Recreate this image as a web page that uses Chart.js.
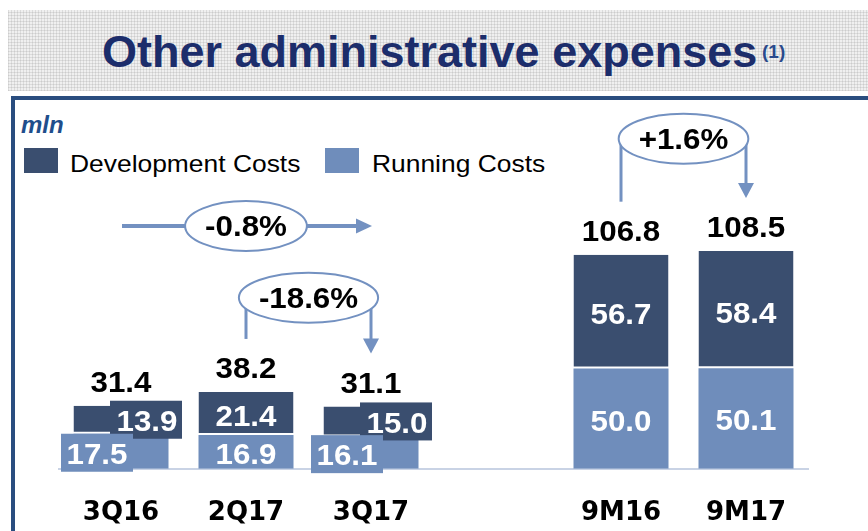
<!DOCTYPE html>
<html><head><meta charset="utf-8">
<script src="https://cdn.jsdelivr.net/npm/chart.js@4.4.1/dist/chart.umd.min.js"></script>
<style>
html,body{margin:0;padding:0;width:868px;height:531px;overflow:hidden;background:#fff;font-family:"Liberation Sans",Arial,sans-serif;}
#band{position:absolute;left:8px;top:10px;width:860px;height:81px;background-color:#f0f0f0;
 background-image:repeating-linear-gradient(0deg,rgba(140,140,140,.20) 0 1px,transparent 1px 3px),repeating-linear-gradient(90deg,rgba(140,140,140,.20) 0 1px,transparent 1px 3px);}
#title{position:absolute;left:102px;top:29px;font:bold 45px/1 "Liberation Sans",Arial,sans-serif;color:#1c2d6b;white-space:nowrap;}
#sup{position:absolute;left:762px;top:42px;font:bold 19px/1 "Liberation Sans",Arial,sans-serif;color:#2a4a8c;white-space:nowrap;}
#frame{position:absolute;left:11px;top:96px;width:880px;height:460px;border-left:4px solid #2a4d7f;border-top:4px solid #2a4d7f;}
#mln{position:absolute;left:21px;top:113px;font:italic bold 24px/1 "Liberation Sans",Arial,sans-serif;color:#1f4e8c;}
.lbox{position:absolute;top:148px;width:34px;height:25px;}
.ltxt{position:absolute;top:152px;font:24px/1 "Liberation Sans",Arial,sans-serif;color:#000;transform:scaleX(1.1);transform-origin:0 0;white-space:nowrap;}
#c{position:absolute;left:0;top:0;z-index:2;}
</style></head>
<body>
<div id="band"></div>
<div id="title">Other administrative expenses</div>
<div id="sup">(1)</div>
<div id="frame"></div>
<div id="mln">mln</div>
<div class="lbox" style="left:24px;background:#3a4e6f"></div>
<div class="ltxt" style="left:70px">Development Costs</div>
<div class="lbox" style="left:325px;background:#6f8dbb"></div>
<div class="ltxt" style="left:372px">Running Costs</div>
<canvas id="c" width="868" height="600"></canvas>
<script>
const categories = ['3Q16', '2Q17', '3Q17', '', '9M16', '9M17'];
const runningCosts = [17.5, 16.9, 16.1, null, 50.0, 50.1];
const developmentCosts = [13.9, 21.4, 15.0, null, 56.7, 58.4];
const totals = [31.4, 38.2, 31.1, null, 106.8, 108.5];
const changeLabels = ['-0.8%', '-18.6%', '+1.6%'];
const changeFrom = [0, 1, 4];
const changeTo = [2, 2, 5];

const DEV = '#3a4e6f', RUN = '#6f8dbb', ARROW = '#7391c1';
const LABEL_FONT = 'bold 29px "Liberation Sans", Arial, sans-serif';
const SX = 1.08;
function fmt(v){ return v.toFixed(1); }
function txt(ctx, s, x, cy, color){
  ctx.save(); ctx.font = LABEL_FONT; ctx.fillStyle = color; ctx.textAlign = 'center'; ctx.textBaseline = 'alphabetic';
  ctx.translate(x, cy + 10.4); ctx.scale(SX, 1); ctx.fillText(s, 0, 0); ctx.restore();
}
function textW(ctx, s){ ctx.save(); ctx.font = LABEL_FONT; const w = ctx.measureText(s).width * SX; ctx.restore(); return w; }

const labelPlugin = {
  id: 'barLabels',
  afterDatasetsDraw(chart){
    const ctx = chart.ctx;
    const run = chart.getDatasetMeta(0).data, dev = chart.getDatasetMeta(1).data;
    totals.forEach((t, i) => {
      if (t == null) return;
      const r = run[i], d = dev[i];
      const rMid = (r.y + r.base) / 2, dMid = (d.y + d.base) / 2;
      if (t < 35) {
        const bw = 72, bh = 38;
        ctx.fillStyle = DEV; ctx.fillRect(d.x + 25 - bw/2, dMid - bh/2, bw, bh);
        ctx.fillStyle = RUN; ctx.fillRect(r.x - 24 - bw/2, rMid + 1.5 - bh/2, bw, bh);
        txt(ctx, fmt(developmentCosts[i]), d.x + 26, dMid + 1, '#fff');
        txt(ctx, fmt(runningCosts[i]), r.x - 24, rMid + 2, '#fff');
      } else {
        txt(ctx, fmt(developmentCosts[i]), d.x, dMid + 2.5, '#fff');
        txt(ctx, fmt(runningCosts[i]), r.x, rMid + 1.5, '#fff');
      }
      txt(ctx, fmt(t), d.x, d.y - 24, '#000');
    });
  }
};

const changePlugin = {
  id: 'changeArrows',
  afterDraw(chart, args, opts){
    const ctx = chart.ctx, ys = chart.scales.y, dev = chart.getDatasetMeta(1).data;
    changeLabels.forEach((lab, k) => {
      const i1 = changeFrom[k], i2 = changeTo[k];
      const x1 = dev[i1].x, x2 = dev[i2].x;
      const cy = ys.getPixelForValue(opts.levels[k]);
      const cx = (x1 + x2) / 2;
      const rx = textW(ctx, lab) / 2 + 20, ry = 25;
      ctx.save();
      ctx.strokeStyle = ARROW; ctx.fillStyle = ARROW;
      if (opts.kinds[k] === 'straight') {
        ctx.lineWidth = 4;
        ctx.beginPath(); ctx.moveTo(x1 + 1, cy); ctx.lineTo(x2 - 14, cy); ctx.stroke();
        ctx.beginPath(); ctx.moveTo(x2 + 1, cy); ctx.lineTo(x2 - 15, cy - 7.5); ctx.lineTo(x2 - 15, cy + 7.5); ctx.closePath(); ctx.fill();
      } else {
        const e1 = dev[i1].y - 53, e2 = dev[i2].y - 53;
        ctx.lineWidth = 3;
        ctx.beginPath(); ctx.moveTo(x1, cy); ctx.lineTo(x1, e1); ctx.stroke();
        ctx.beginPath(); ctx.moveTo(x2, cy); ctx.lineTo(x2, e2 - 14); ctx.stroke();
        ctx.beginPath(); ctx.moveTo(x2, e2); ctx.lineTo(x2 - 8, e2 - 15); ctx.lineTo(x2 + 8, e2 - 15); ctx.closePath(); ctx.fill();
      }
      ctx.beginPath(); ctx.ellipse(cx, cy, rx, ry, 0, 0, Math.PI * 2);
      ctx.fillStyle = '#fff'; ctx.fill(); ctx.lineWidth = 2; ctx.stroke();
      ctx.restore();
      txt(ctx, lab, cx, cy, '#000');
    });
  }
};

new Chart(document.getElementById('c'), {
  type: 'bar',
  data: {
    labels: categories,
    datasets: [
      { label: 'Running Costs', data: runningCosts, backgroundColor: RUN, borderWidth: 0 },
      { label: 'Development Costs', data: developmentCosts, backgroundColor: DEV, borderColor: '#fff',
        borderWidth: { top: 0, left: 0, right: 0, bottom: 2 }, borderSkipped: false }
    ]
  },
  options: {
    responsive: false, animation: false,
    devicePixelRatio: 1,
    datasets: { bar: { barPercentage: 0.76, categoryPercentage: 1 } },
    layout: { padding: { left: 58.5, right: 59.5, top: 228, bottom: 42 } },
    scales: {
      x: { stacked: true, offset: true,
           grid: { display: false, drawTicks: false },
           border: { display: true, color: '#c9d3e5', width: 2 },
           ticks: { color: '#000', padding: 29, font: { family: '"DejaVu Sans", sans-serif', weight: 'bold', size: 26 } } },
      y: { stacked: true, display: false, min: 0, max: 120 }
    },
    plugins: {
      legend: { display: false }, tooltip: { enabled: false },
      changeArrows: { levels: [121, 85.25, 164.5], kinds: ['straight', 'bracket', 'bracket'] }
    }
  },
  plugins: [labelPlugin, changePlugin]
});
</script>
</body></html>
